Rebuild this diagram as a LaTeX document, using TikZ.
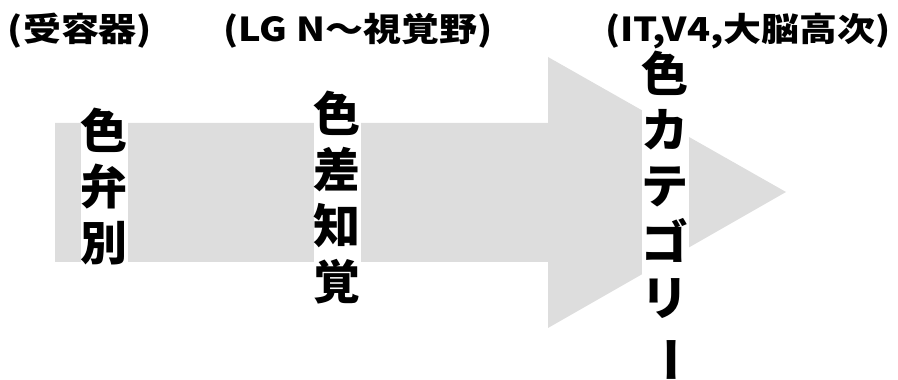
\documentclass[tikz,border=0pt]{standalone}
\usepackage{fontspec}
\usepackage{graphicx}
\setmainfont{Noto Sans CJK JP}
\newfontfamily\ebenefont[FakeStretch=1.15]{Noto Sans CJK JP}
\definecolor{pfeilgrau}{RGB}{221,221,221}
\tikzset{
	stufe/.style={fill=white, inner sep=0pt, align=center, font=\bfseries\fontsize{47}{56}\selectfont},
	ebene/.style={inner sep=0pt, font=\ebenefont\bfseries\fontsize{33}{38}\selectfont}
}

\begin{document}
\begin{tikzpicture}[x=1pt, y=1pt]
			\useasboundingbox (0,0) rectangle (898,380);
			
			\fill[pfeilgrau] (55,257) -- (548,257) -- (548,323) -- (786,188) -- (548,52) -- (548,118) -- (55,118) -- cycle;
			
			\node[stufe] (rez) at (104,193) {色\\弁\\別};
			\node[stufe] (lgn) at (337,182) {色\\差\\知\\覚};
			\node[stufe] (it) at (665,163) {色\\カ\\テ\\ゴ\\リ\\\rotatebox[origin=c]{-90}{ー}};
			
			\node[ebene] (rezl) at (80,349) {(受容器)};
			\node[ebene] (lgnl) at (358,349) {(LG N～視覚野)};
			\node[ebene] (itl) at (748,349) {(IT,V4,大脳高次)};
		\end{tikzpicture}
\end{document}
